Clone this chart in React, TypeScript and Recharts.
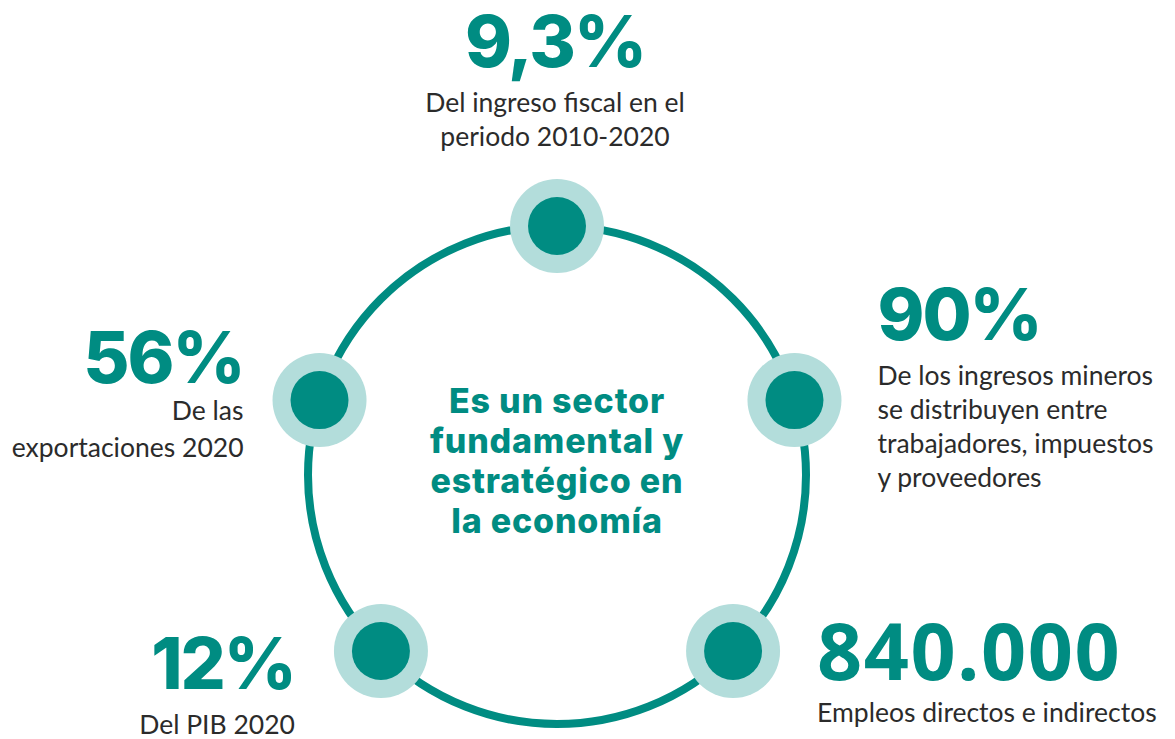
import React from 'react';
import { ScatterChart, Scatter, XAxis, YAxis } from 'recharts';

if (typeof document !== 'undefined') document.body.style.margin = '0';

const TEAL = '#008c82';
const LIGHT = '#b3dddb';
const TEXT = '#2b2b2b';

// headline figures, their captions and where each sits on the ring (degrees)
const VALUES = ['9,3%', '90%', '56%', '12%', '840.000'];
const CAPTIONS = [
  ['Del ingreso fiscal en el', 'periodo 2010-2020'],
  ['De los ingresos mineros', 'se distribuyen entre', 'trabajadores, impuestos', 'y proveedores'],
  ['De las', 'exportaciones 2020'],
  ['Del PIB 2020'],
  ['Empleos directos e indirectos'],
];
const ANGLES = [90, 17.5, 162.5, 225, 315];
const RING_RADIUS = 249;
const CENTER_LINES = ['Es un sector', 'fundamental y', 'estratégico en', 'la economía'];

// label placement relative to each node (px)
const LAYOUT = [
  { anchor: 'middle', dx: -2, valueDy: -159, capDy: -114, lh: 34, font: 'Inter', size: 71, weight: 800, ls: -2 },
  { anchor: 'start', dx: 83, valueDy: -60, capDy: -15, lh: 34, font: 'Inter', size: 71, weight: 800, ls: -2 },
  { anchor: 'end', dx: -76, valueDy: -17, capDy: 20, lh: 37, font: 'Inter', size: 71, weight: 800, ls: -2 },
  { anchor: 'end', dx: -86, valueDy: 38, capDy: 83, lh: 34, font: 'Inter', size: 71, weight: 800, ls: -2 },
  { anchor: 'start', dx: 84, valueDy: 29, capDy: 71, lh: 34, font: 'Open Sans', size: 79, weight: 700, ls: 1.5 },
];

const nodes = VALUES.map((v, i) => ({
  x: RING_RADIUS * Math.cos((ANGLES[i] * Math.PI) / 180),
  y: RING_RADIUS * Math.sin((ANGLES[i] * Math.PI) / 180),
  value: v,
  caption: CAPTIONS[i],
  idx: i,
}));

const center = [{ x: 0, y: 0 }];

const RingShape = (props: any) => (
  <g>
    <circle cx={props.cx} cy={props.cy} r={RING_RADIUS} fill="none" stroke={TEAL} strokeWidth={8} />
    {CENTER_LINES.map((line, i) => (
      <text
        key={line}
        x={props.cx}
        y={props.cy - 62 + i * 40}
        textAnchor="middle"
        fontFamily="Inter"
        fontWeight={800}
        fontSize={34}
        letterSpacing={0.8}
        fill={TEAL}
      >
        {line}
      </text>
    ))}
  </g>
);

const NodeShape = (props: any) => {
  const { cx, cy, payload } = props;
  const l = LAYOUT[payload.idx];
  return (
    <g>
      <circle cx={cx} cy={cy} r={47} fill={LIGHT} />
      <circle cx={cx} cy={cy} r={29} fill={TEAL} />
      <text
        x={cx + l.dx}
        y={cy + l.valueDy}
        textAnchor={l.anchor}
        fontFamily={l.font}
        fontWeight={l.weight}
        fontSize={l.size}
        letterSpacing={l.ls}
        fill={TEAL}
      >
        {payload.value}
      </text>
      {payload.caption.map((c: string, i: number) => (
        <text
          key={c}
          x={cx + l.dx}
          y={cy + l.capDy + i * l.lh}
          textAnchor={l.anchor}
          fontFamily="Lato"
          fontSize={26.5}
          fill={TEXT}
        >
          {c}
        </text>
      ))}
    </g>
  );
};

export default function App() {
  return (
    <div style={{ width: 1175, height: 739, background: '#fff' }}>
      <ScatterChart width={1175} height={739} margin={{ top: 0, right: 0, bottom: 0, left: 0 }}>
        <XAxis type="number" dataKey="x" domain={[-557, 618]} hide />
        <YAxis type="number" dataKey="y" domain={[-264, 475]} hide />
        <Scatter data={center} shape={RingShape} isAnimationActive={false} />
        <Scatter data={nodes} shape={NodeShape} isAnimationActive={false} />
      </ScatterChart>
    </div>
  );
}
